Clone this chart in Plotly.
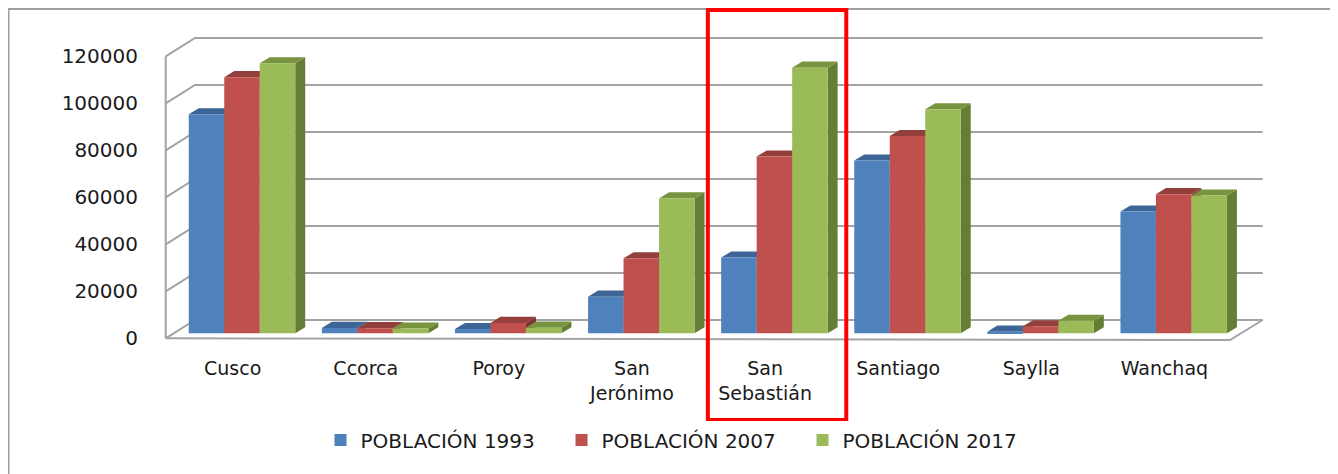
import plotly.graph_objects as go

# ---------------- data ----------------
CATEGORIES = ["Cusco", "Ccorca", "Poroy", "San<br>Jerónimo", "San<br>Sebastián",
              "Santiago", "Saylla", "Wanchaq"]
SERIES_NAMES = ["POBLACIÓN 1993", "POBLACIÓN 2007", "POBLACIÓN 2017"]
P1993 = [93200, 2300, 1800, 15600, 32200, 73500, 700, 51800]
P2007 = [109000, 2200, 4400, 31900, 75200, 83900, 3000, 59200]
P2017 = [114900, 2000, 2400, 57400, 113000, 95300, 5300, 58600]
Y_TICKS = [0, 20000, 40000, 60000, 80000, 100000, 120000]
HIGHLIGHT = 4  # San Sebastián

# ---------------- styling / geometry ----------------
FRONT = ["#4F81BD", "#C0504D", "#9BBB59"]
TOP = ["#3D6595", "#93403D", "#79943F"]
SIDE = ["#385D8A", "#7F3532", "#667D36"]
GRID = "#A3A3A3"
FONT = "DejaVu Sans"

PAGE_W, PAGE_H = 1338, 474
BODY = 8                                   # default page body margin
W, H = PAGE_W - BODY, PAGE_H - BODY
L_PX, R_PX, T_PX, B_PX = 160, 1268, 34, 342   # screenshot pixel coords
X_ORIGIN_PX, X_SCALE = 242.0, 133.1        # px of category 0, px per category
Y_ZERO_PX, UNITS_PER_PX = 333.3, 425.5     # bar baseline px, value units per px

def xu(px):
    return (px - X_ORIGIN_PX) / X_SCALE

def yu(px):
    return (Y_ZERO_PX - px) * UNITS_PER_PX

x_range = [xu(L_PX), xu(R_PX)]
y_range = [yu(B_PX), yu(T_PX)]

BAR_W = 0.8 / 3
DX, DY = 0.075, 2600                 # depth of the 3D bars
FRONT_OFF, BACK_OFF = yu(338.3), yu(320.0)
X_FRONT_L, X_BACK_L = xu(165.7), xu(195.0)
X_FRONT_R, X_BACK_R = xu(1230.0), xu(1262.7)
FRONT_OFF_R = yu(340.0)

series = [P1993, P2007, P2017]
fig = go.Figure()

# ---- walls / gridlines (base axes) ----
gx, gy = [], []
for v in Y_TICKS:
    gx += [X_FRONT_L, X_BACK_L, X_BACK_R, None]
    gy += [v + FRONT_OFF, v + BACK_OFF, v + BACK_OFF, None]
gx += [X_FRONT_L, X_FRONT_L, None]
gy += [FRONT_OFF, Y_TICKS[-1] + FRONT_OFF, None]
gx += [X_FRONT_L, X_FRONT_R, X_BACK_R]
gy += [FRONT_OFF, FRONT_OFF_R, BACK_OFF]
fig.add_trace(go.Scatter(x=gx, y=gy, mode="lines", line=dict(color=GRID, width=2),
                         hoverinfo="skip", showlegend=False))

# ---- side and top faces of 3D bars (base axes, beneath front faces) ----
for j, vals in enumerate(series):
    sx, sy, tx, ty = [], [], [], []
    for i, v in enumerate(vals):
        xl = i - 0.4 + j * BAR_W
        xr = xl + BAR_W
        sx += [xr, xr + DX, xr + DX, xr, xr, None]
        sy += [0, DY, v + DY, v, 0, None]
        tx += [xl, xl + DX, xr + DX, xr, xl, None]
        ty += [v, v + DY, v + DY, v, v, None]
    fig.add_trace(go.Scatter(x=sx, y=sy, fill="toself", mode="lines",
                             line=dict(width=0, color=SIDE[j]), fillcolor=SIDE[j],
                             hoverinfo="skip", showlegend=False))
    fig.add_trace(go.Scatter(x=tx, y=ty, fill="toself", mode="lines",
                             line=dict(width=0, color=TOP[j]), fillcolor=TOP[j],
                             hoverinfo="skip", showlegend=False))

# ---- front faces (overlay axes, drawn above) ----
xs = list(range(len(CATEGORIES)))
for j, vals in enumerate(series):
    fig.add_trace(go.Bar(x=xs, y=vals, name=SERIES_NAMES[j], marker_color=FRONT[j],
                         marker_line_width=0, xaxis="x2", yaxis="y2",
                         offsetgroup=str(j)))

# ---- layout ----
paper_x = lambda px: (px - L_PX) / (R_PX - L_PX)
paper_y = lambda px: (B_PX - px) / (B_PX - T_PX)

fig.update_layout(
    width=W, height=H,
    margin=dict(l=L_PX - BODY, r=PAGE_W - R_PX, t=T_PX - BODY, b=PAGE_H - B_PX),
    paper_bgcolor="white", plot_bgcolor="rgba(0,0,0,0)",
    barmode="group", bargap=0.2, bargroupgap=0,
    font=dict(family=FONT, size=19, color="#1a1a1a"),
    xaxis=dict(range=x_range, tickvals=[i - 0.07 for i in xs], ticktext=CATEGORIES,
               showgrid=False, zeroline=False, showline=False, ticks="",
               ticklabelstandoff=13, tickfont=dict(size=19)),
    yaxis=dict(range=y_range, tickvals=[v + FRONT_OFF for v in Y_TICKS],
               ticktext=[str(v) for v in Y_TICKS], showgrid=False, zeroline=False,
               showline=False, ticks="", ticklabelstandoff=21,
               tickfont=dict(size=20)),
    xaxis2=dict(range=x_range, overlaying="x", visible=False),
    yaxis2=dict(range=y_range, overlaying="y", visible=False),
    legend=dict(orientation="h", x=paper_x(682), y=paper_y(440), xanchor="center",
                yanchor="middle", font=dict(size=20), entrywidth=196,
                entrywidthmode="pixels", traceorder="normal"),
    showlegend=True,
    shapes=[
        dict(type="rect", xref="paper", yref="paper",
             x0=paper_x(8.5), x1=paper_x(1331.7), y0=paper_y(480), y1=paper_y(9),
             line=dict(color="#A0A0A0", width=2), layer="above"),
        dict(type="rect", xref="x", yref="paper",
             x0=HIGHLIGHT - 0.5, x1=HIGHLIGHT + 0.54, y0=paper_y(420), y1=paper_y(10),
             line=dict(color="#FF0000", width=4), layer="above"),
    ],
)

fig.write_html("out.html")
